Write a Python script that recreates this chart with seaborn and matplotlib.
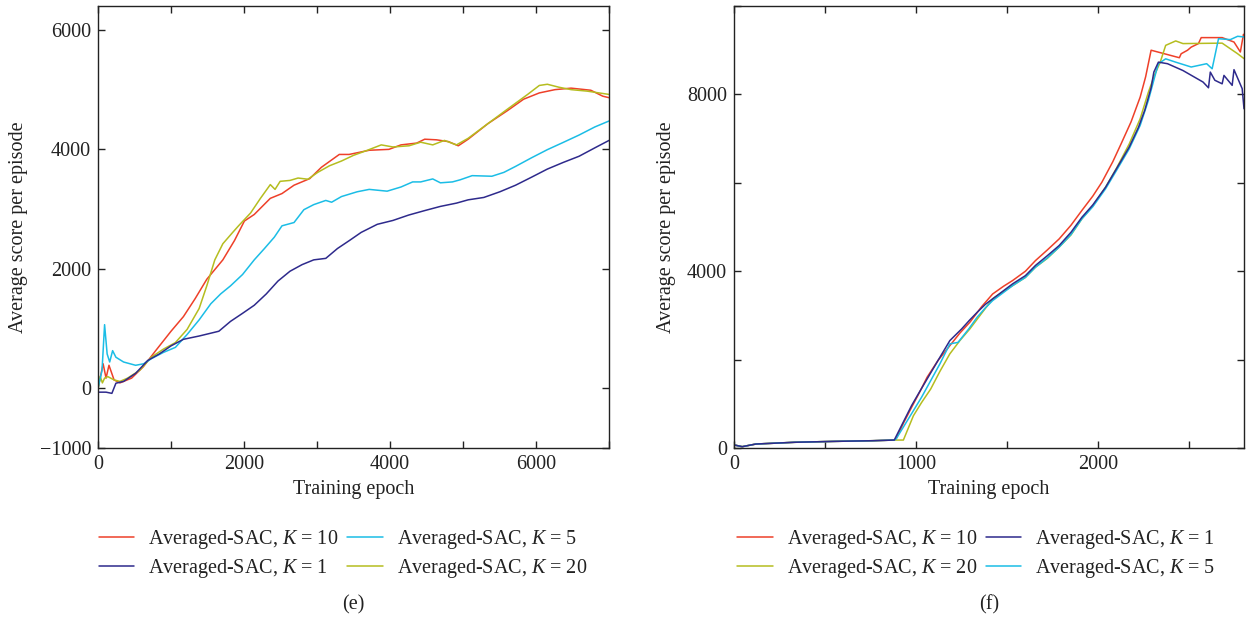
import numpy as np
import pandas as pd
import matplotlib
matplotlib.use("Agg")
import matplotlib.pyplot as plt
import seaborn as sns

# ---------------- data: panel (e) ----------------
e_k10_x = [0, 70, 110, 150, 220, 300, 460, 620, 790, 1000, 1170, 1330, 1490, 1710, 1870, 2005, 2140, 2360, 2520,
           2685, 2900, 3060, 3305, 3440, 3715, 3985, 4150, 4365, 4475, 4635, 4800, 4935, 5070, 5340, 5610, 5830,
           6045, 6260, 6480, 6750, 6915, 7000]
e_k10_y = [0, 410, 170, 385, 140, 90, 170, 360, 630, 955, 1200, 1500, 1825, 2150, 2475, 2800, 2910, 3180, 3260,
           3400, 3510, 3700, 3915, 3915, 3985, 4000, 4075, 4105, 4170, 4160, 4130, 4060, 4170, 4430, 4650, 4840,
           4945, 5000, 5025, 4990, 4890, 4865]

e_k20_x = [0, 30, 60, 90, 135, 220, 300, 405, 570, 730, 895, 1060, 1220, 1385, 1490, 1600, 1710, 1845, 1925, 2090,
           2225, 2360, 2425, 2495, 2630, 2740, 2875, 3010, 3170, 3335, 3500, 3690, 3880, 4040, 4260, 4420, 4585,
           4745, 4910, 5070, 5340, 5610, 5885, 6045, 6155, 6315, 6480, 6700, 7000]
e_k20_y = [-20, 200, 90, 170, 195, 140, 115, 170, 300, 520, 655, 765, 985, 1335, 1715, 2150, 2420, 2610, 2720, 2935,
           3180, 3410, 3330, 3465, 3480, 3520, 3500, 3615, 3725, 3805, 3900, 3985, 4075, 4040, 4060, 4120, 4075,
           4150, 4075, 4185, 4430, 4675, 4920, 5070, 5090, 5040, 5000, 4975, 4920]

e_k5_x = [0, 55, 90, 125, 160, 200, 245, 350, 515, 625, 730, 895, 1060, 1220, 1385, 1545, 1680, 1815, 1980, 2140,
          2280, 2415, 2520, 2685, 2820, 2955, 3120, 3200, 3335, 3550, 3715, 3960, 4150, 4310, 4420, 4585, 4690,
          4855, 4960, 5125, 5395, 5560, 5720, 5940, 6155, 6370, 6590, 6805, 7000]
e_k5_y = [0, 300, 1065, 575, 440, 630, 520, 440, 385, 410, 495, 600, 685, 900, 1145, 1415, 1580, 1715, 1905, 2150,
          2340, 2530, 2720, 2775, 2990, 3075, 3145, 3115, 3210, 3290, 3330, 3300, 3370, 3455, 3455, 3505, 3440,
          3455, 3490, 3560, 3550, 3615, 3715, 3860, 3995, 4115, 4240, 4375, 4475]

e_k1_x = [0, 110, 190, 245, 350, 515, 680, 840, 1000, 1170, 1385, 1655, 1815, 1980, 2140, 2305, 2465, 2630, 2795,
          2955, 3120, 3280, 3445, 3605, 3825, 4040, 4255, 4475, 4690, 4910, 5070, 5285, 5505, 5720, 5940, 6155,
          6370, 6590, 6805, 7000]
e_k1_y = [-65, -65, -85, 85, 115, 250, 465, 575, 710, 820, 875, 955, 1120, 1255, 1390, 1580, 1795, 1960, 2070,
          2150, 2175, 2340, 2475, 2610, 2745, 2810, 2900, 2975, 3045, 3100, 3155, 3195, 3290, 3400, 3535, 3670,
          3780, 3885, 4025, 4150]

# ---------------- data: panel (f) ----------------
f_base_x = [0, 45, 120, 335, 550, 760, 880]
f_base_y = [70, 30, 90, 130, 150, 165, 180]

f_k10_x = f_base_x + [890, 930, 975, 1020, 1060, 1120, 1185, 1240, 1295, 1360, 1420, 1480, 1530, 1600, 1655, 1720,
                      1785, 1850, 1910, 1970, 2020, 2080, 2125, 2180, 2230, 2260, 2290, 2445, 2455, 2490, 2510, 2550,
                      2565, 2680, 2745, 2780, 2797]
f_k10_y = f_base_y + [205, 560, 920, 1270, 1600, 1980, 2315, 2600, 2845, 3200, 3485, 3660, 3790, 4000, 4240, 4480,
                      4730, 5040, 5375, 5700, 6015, 6480, 6880, 7380, 7940, 8400, 9000, 8830, 8920, 9000, 9070, 9150,
                      9285, 9285, 9185, 8960, 9360]

f_k1_x = f_base_x + [975, 1020, 1060, 1120, 1185, 1250, 1295, 1335, 1380, 1420, 1480, 1530, 1600, 1655, 1720, 1785,
                     1850, 1910, 1970, 2040, 2100, 2170, 2220, 2255, 2290, 2305, 2330, 2380, 2465, 2575, 2605, 2615,
                     2640, 2680, 2690, 2735, 2745, 2790, 2800]
f_k1_y = f_base_y + [960, 1280, 1560, 1980, 2430, 2695, 2900, 3070, 3250, 3375, 3560, 3715, 3900, 4130, 4350, 4580,
                     4880, 5220, 5500, 5900, 6320, 6810, 7250, 7640, 8150, 8505, 8730, 8695, 8540, 8280, 8150, 8505,
                     8320, 8240, 8430, 8205, 8560, 8130, 7675]

f_k5_x = f_base_x + [890, 985, 1030, 1070, 1130, 1185, 1230, 1290, 1335, 1380, 1420, 1480, 1530, 1600, 1655, 1720,
                     1785, 1850, 1910, 1970, 2040, 2100, 2170, 2230, 2275, 2310, 2330, 2370, 2425, 2510, 2550, 2595,
                     2625, 2660, 2725, 2765, 2800]
f_k5_y = f_base_y + [205, 845, 1150, 1450, 1900, 2355, 2390, 2700, 2960, 3170, 3335, 3520, 3675, 3860, 4090, 4300,
                     4545, 4830, 5185, 5460, 5865, 6280, 6770, 7300, 7865, 8400, 8695, 8805, 8730, 8620, 8655, 8695,
                     8580, 9260, 9240, 9315, 9300]

f_k20_x = f_base_x + [930, 985, 1030, 1080, 1130, 1185, 1240, 1295, 1360, 1420, 1480, 1530, 1600, 1655, 1720, 1785,
                      1850, 1910, 1970, 2040, 2100, 2170, 2230, 2275, 2310, 2340, 2370, 2425, 2465, 2680, 2765, 2800]
f_k20_y = f_base_y + [180, 730, 1030, 1335, 1730, 2130, 2430, 2695, 3050, 3375, 3540, 3675, 3860, 4090, 4290, 4545,
                      4820, 5185, 5480, 5900, 6330, 6880, 7450, 8050, 8450, 8730, 9110, 9210, 9150, 9160, 8920, 8810]

labels = {"k10": "Averaged-SAC, $K$ = 10", "k5": "Averaged-SAC, $K$ = 5",
          "k1": "Averaged-SAC, $K$ = 1", "k20": "Averaged-SAC, $K$ = 20"}
colors = {"k10": "#ee4029", "k5": "#1bbde6", "k1": "#2e2a8c", "k20": "#b5bd1f"}

# ---------------- style ----------------
sns.set_theme(style="ticks")
plt.rcParams["font.family"] = ["Liberation Serif", "DejaVu Serif"]
plt.rcParams["mathtext.fontset"] = "custom"
plt.rcParams["mathtext.rm"] = "Liberation Serif"
plt.rcParams["mathtext.it"] = "Liberation Serif:italic"
plt.rcParams["axes.edgecolor"] = "#222222"
plt.rcParams["axes.linewidth"] = 1.0

FS = 14.5
fig = plt.figure(figsize=(12.47, 6.2), dpi=100)
ax_e = fig.add_axes([0.0786, 0.2774, 0.4098, 0.7129])
ax_f = fig.add_axes([0.5886, 0.2774, 0.4090, 0.7129])


def draw(ax, series, order):
    handles = {}
    for key, (xs, ys) in series.items():
        df = pd.DataFrame({"x": xs, "y": ys})
        sns.lineplot(data=df, x="x", y="y", ax=ax, color=colors[key], lw=1.1,
                     estimator=None, sort=False, label=labels[key], legend=False)
        handles[key] = ax.get_lines()[-1]
    return [handles[k] for k in order]


h_e = draw(ax_e, {"k10": (e_k10_x, e_k10_y), "k20": (e_k20_x, e_k20_y),
                  "k5": (e_k5_x, e_k5_y), "k1": (e_k1_x, e_k1_y)},
           ["k10", "k1", "k5", "k20"])
h_f = draw(ax_f, {"k10": (f_k10_x, f_k10_y), "k20": (f_k20_x, f_k20_y),
                  "k5": (f_k5_x, f_k5_y), "k1": (f_k1_x, f_k1_y)},
           ["k10", "k20", "k1", "k5"])

# axes (e)
ax_e.set_xlim(0, 7000)
ax_e.set_ylim(-1000, 6400)
ax_e.set_xticks(range(0, 7001, 1000))
ax_e.set_xticklabels(["0", "", "2000", "", "4000", "", "6000", ""])
ax_e.set_yticks([-1000, 0, 2000, 4000, 6000])
ax_e.set_yticklabels(["\u22121000", "0", "2000", "4000", "6000"])

# axes (f)
ax_f.set_xlim(0, 2800)
ax_f.set_ylim(0, 10000)
ax_f.set_xticks(range(0, 2501, 500))
ax_f.set_xticklabels(["0", "", "1000", "", "2000", ""])
ax_f.set_yticks(range(0, 10001, 2000))
ax_f.set_yticklabels(["0", "", "4000", "", "8000", ""])

for ax in (ax_e, ax_f):
    ax.tick_params(direction="in", length=5, width=1, top=True, right=True,
                   labelsize=FS, colors="#222222", pad=5)
    for s in ax.spines.values():
        s.set_visible(True)
        s.set_color("#222222")
    ax.set_xlabel("Training epoch", fontsize=FS, color="#222222", labelpad=4)
    ax.set_ylabel("Average score per episode", fontsize=FS, color="#222222", labelpad=8)

for handles, lx, cx, cap in ((h_e, 0.275, 0.2835, "(e)"), (h_f, 0.783, 0.7931, "(f)")):
    fig.legend(handles=handles, labels=[h.get_label() for h in handles], loc="upper center",
               bbox_to_anchor=(lx, 0.149), ncol=2, frameon=False, fontsize=FS,
               handlelength=1.75, handletextpad=0.7, columnspacing=0.45, labelspacing=0.3,
               borderaxespad=0.0, borderpad=0.0, labelcolor="#222222")
    fig.text(cx, 0.025, cap, ha="center", va="center", fontsize=FS, color="#222222")

fig.savefig("out.png", dpi=100)
